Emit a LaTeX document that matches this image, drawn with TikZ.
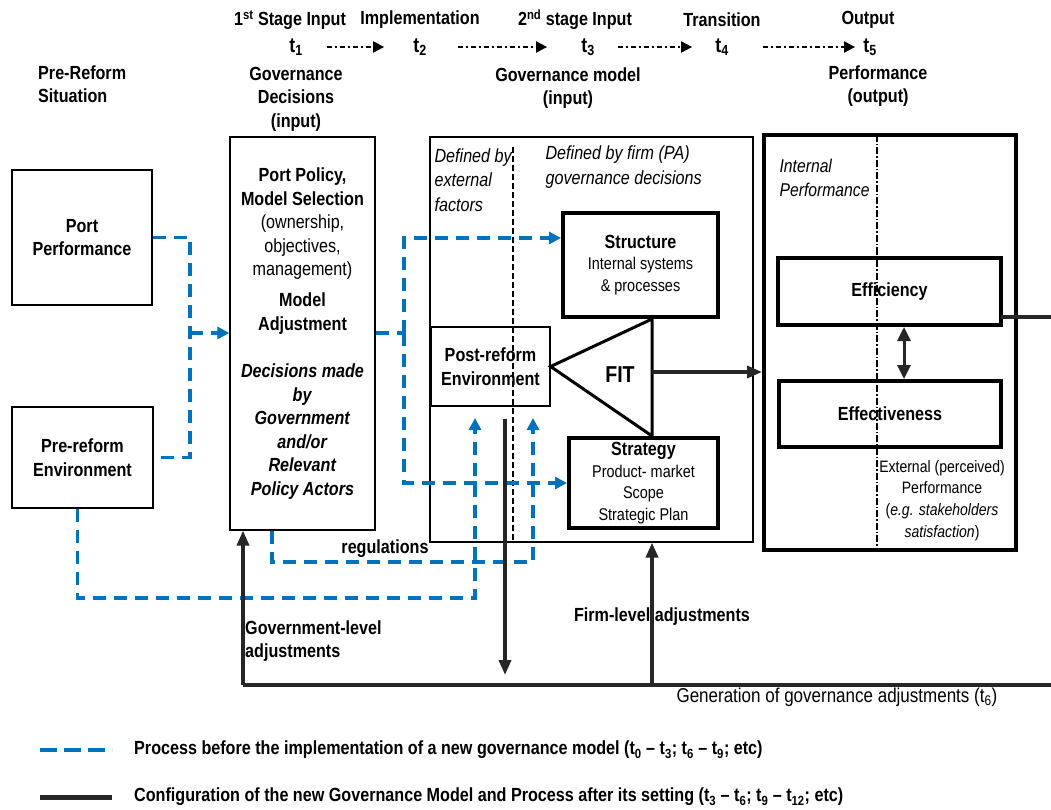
\documentclass[tikz,border=0pt]{standalone}
\usepackage{fontspec}
\setmainfont{Liberation Sans}[FakeStretch=0.85]
\usetikzlibrary{arrows.meta,calc}
\definecolor{flowblue}{RGB}{0,114,188}
\newcommand{\bigtxt}{\fontsize{19}{23.5}\selectfont}
\newcommand{\midtxt}{\fontsize{19}{24.5}\selectfont}
\newcommand{\smalltxt}{\fontsize{17}{21.5}\selectfont}

\begin{document}
\begin{tikzpicture}[x=1pt, y=-1pt,
    lbl/.style={font=\bigtxt\bfseries, align=center, inner sep=2pt},
    box/.style={draw, line width=1.2pt, inner sep=0pt, align=center, font=\bigtxt\bfseries},
    heavybox/.style={draw, line width=4pt, inner sep=0pt, align=center, font=\bigtxt\bfseries},
    flow/.style={draw=flowblue, line width=3.5pt, dash pattern=on 13pt off 8pt},
    flowtip/.style={-{Triangle[length=12pt,width=12pt]}},
    heavy/.style={draw=black!85, line width=3.5pt},
    heavytip/.style={-{Triangle[length=15pt,width=12pt]}},
    timeflow/.style={line width=2pt, dash pattern=on 5pt off 3pt on 2pt off 3pt,
        -{Triangle[length=11pt,width=11pt]}}]
    \useasboundingbox (0,0) rectangle (1051,810);

    % time line
    \node[lbl] (stage1) at (290,20) {1\textsuperscript{st} Stage Input};
    \node[lbl] (impl) at (420,20) {Implementation};
    \node[lbl] (stage2) at (575,20) {2\textsuperscript{nd} stage Input};
    \node[lbl] (trans) at (722,20) {Transition};
    \node[lbl] (outp) at (868,20) {Output};
    \node[lbl, font=\fontsize{21}{24}\selectfont\bfseries] (t1) at (296,47) {t\textsubscript{1}};
    \node[lbl, font=\fontsize{21}{24}\selectfont\bfseries] (t2) at (420,47) {t\textsubscript{2}};
    \node[lbl, font=\fontsize{21}{24}\selectfont\bfseries] (t3) at (588,47) {t\textsubscript{3}};
    \node[lbl, font=\fontsize{21}{24}\selectfont\bfseries] (t4) at (722,47) {t\textsubscript{4}};
    \node[lbl, font=\fontsize{21}{24}\selectfont\bfseries] (t5) at (870,47) {t\textsubscript{5}};
    \draw[timeflow, shorten <=22pt, shorten >=27pt] (t1) -- (t2);
    \draw[timeflow, shorten <=29pt, shorten >=32pt] (t2) -- (t3);
    \draw[timeflow, shorten <=21pt, shorten >=21pt] (t3) -- (t4);
    \draw[timeflow, shorten <=32pt, shorten >=6pt] (t4) -- (t5);

    % column heads
    \node[lbl, align=left, anchor=west] (prehead) at (36,84) {Pre-Reform\\Situation};
    \node[lbl] (govhead) at (296,99) {Governance\\Decisions\\(input)};
    \node[lbl] (modhead) at (568,88) {Governance model\\(input)};
    \node[lbl] (perfhead) at (878,86) {Performance\\(output)};

    % pre-reform situation
    \node[box, minimum width=140pt, minimum height=135pt] (portperf) at (82,237.5) {Port\\Performance};
    \node[box, minimum width=141pt, minimum height=101pt] (preenv) at (82.5,457.5) {Pre-reform\\Environment};

    % governance decisions
    \node[box, minimum width=145pt, minimum height=393pt] (govbox) at (302.5,333.5)
        {Port Policy,\\Model Selection\\{\mdseries (ownership,}\\{\mdseries objectives,}\\{\mdseries management)}\\[7.5pt]
         Model\\Adjustment\\[24pt]
         \textit{Decisions made}\\\textit{by}\\\textit{Government}\\\textit{and/or}\\\textit{Relevant}\\\textit{Policy Actors}};

    % governance model
    \node[box, minimum width=323pt, minimum height=405pt] (midbox) at (591.5,339.5) {};
    \draw[line width=1.2pt, dash pattern=on 6pt off 3pt] ($(midbox.north)+(-78.5,11)$) -- ($(midbox.south)+(-78.5,-2)$);
    \node[align=left, anchor=west, font=\midtxt\itshape] (extlbl) at (431,180) {Defined by\\external\\factors};
    \node[align=left, anchor=west, font=\midtxt\itshape] (firmlbl) at (542,167) {Defined by firm (PA)\\governance decisions};
    \node[heavybox, minimum width=155pt, minimum height=104pt, font=\smalltxt] (structure) at (640.5,265)
        {{\bigtxt\bfseries Structure}\\Internal systems\\\& processes};
    \node[heavybox, minimum width=149pt, minimum height=90pt, font=\smalltxt] (strategy) at (643.5,483)
        {{\bigtxt\bfseries Strategy}\\Product- market\\Scope\\Strategic Plan};
    \node[box, minimum width=119pt, minimum height=79pt] (postenv) at (490.5,366.5) {Post-reform\\Environment};
    \coordinate (fitx) at (652,372);
    \draw[line width=3pt, line join=miter] (postenv.east) -- (structure.south -| fitx) -- (strategy.north -| fitx) -- cycle;
    \node[font=\fontsize{23}{26}\selectfont\bfseries] (fitlbl) at (620,375) {FIT};

    % performance
    \node[heavybox, minimum width=252pt, minimum height=415pt] (outbox) at (890,342.5) {};
    \draw[line width=1.2pt, dash pattern=on 7pt off 2pt on 1.5pt off 2pt] ($(outbox.north)+(-13,2)$) -- ($(outbox.south)+(-13,-2)$);
    \node[align=left, anchor=west, font=\fontsize{18.5}{24}\selectfont\itshape] (intlbl) at (776,178) {Internal\\Performance};
    \node[heavybox, minimum width=223pt, minimum height=67pt] (efficiency) at (889.5,291.5) {Efficiency};
    \node[heavybox, minimum width=222pt, minimum height=66pt] (effective) at (890,414) {Effectiveness};
    \node[align=center, font=\fontsize{16.5}{21.7}\selectfont] (extlbl2) at (942,500.5)
        {External (perceived)\\Performance\\(\textit{e.g. stakeholders}\\\textit{satisfaction})};
    \draw[heavy, line width=3pt, {Triangle[length=14pt,width=13pt]}-{Triangle[length=14pt,width=13pt]}]
        ($(efficiency.south)+(14.5,0)$) -- ($(effective.north)+(14,0)$);
    \coordinate (effout) at (1051,317);
    \draw[heavy] ($(efficiency.east)+(-2,25.5)$) -- (effout);

    % process before implementation
    \coordinate (pjoin) at (190,333);
    \draw[flow] (portperf.east) -| (pjoin) |- (preenv.east);
    \draw[flow, flowtip] (pjoin) -- (govbox.west |- pjoin);
    \coordinate (gjoin) at (404,333);
    \coordinate (structin) at ($(structure.north west)!0.25!(structure.south west)$);
    \draw[flow] (govbox.east |- gjoin) -- (gjoin);
    \draw[flow, flowtip] (gjoin) |- (structin);
    \draw[flow, flowtip] (gjoin) |- (strategy.west);
    \coordinate (envin1) at (475,406);
    \coordinate (envin2) at (533,406);
    \coordinate (lowturn) at (475,598);
    \coordinate (regstart) at ($(govbox.south)+(-30.5,0)$);
    \coordinate (regturn) at (533,562);
    \draw[flow, flowtip, shorten >=12pt] ($(preenv.south)+(-5,0)$) |- (lowturn) -- (envin1);
    \draw[flow, flowtip, shorten >=12pt] (regstart) |- (regturn) -- (envin2);
    \node[lbl] (reglbl) at (385,549) {regulations};

    % configuration after setting
    \coordinate (govadj) at (243,685);
    \coordinate (firmadj) at (652,685);
    \coordinate (adjend) at (1051,685);
    \coordinate (envdown) at (505,675);
    \draw[heavy] (govadj) -- (adjend);
    \draw[heavy, heavytip] (govadj) -- (govbox.south -| govadj);
    \draw[heavy, heavytip] (firmadj) -- (midbox.south -| firmadj);
    \draw[heavy, heavytip, shorten <=12pt] (postenv.south -| envdown) -- (envdown);
    \draw[heavy, heavytip] (fitx) -- (outbox.west |- fitx);
    \node[lbl, align=left, anchor=west] (govadjlbl) at (243,641) {Government-level\\adjustments};
    \node[lbl] (firmadjlbl) at (662,617) {Firm-level adjustments};
    \node[anchor=west, font=\fontsize{20}{22}\selectfont] (genlbl) at (673,697) {Generation of governance adjustments (t\textsubscript{6})};

    % legend
    \coordinate (leg1a) at (40,750);
    \coordinate (leg1b) at (112,750);
    \coordinate (leg2a) at (40,797);
    \coordinate (leg2b) at (112,797);
    \draw[flow, dash pattern=on 17pt off 7pt] (leg1a) -- (leg1b);
    \draw[heavy, line width=5pt] (leg2a) -- (leg2b);
    \node[lbl, anchor=west, font=\fontsize{19}{22}\selectfont\bfseries] (leg1) at (132,750)
        {Process before the implementation of a new governance model (t\textsubscript{0} – t\textsubscript{3}; t\textsubscript{6} – t\textsubscript{9}; etc)};
    \node[lbl, anchor=west, font=\fontsize{19}{22}\selectfont\bfseries] (leg2) at (132,797)
        {Configuration of the new Governance Model and Process after its setting (t\textsubscript{3} – t\textsubscript{6}; t\textsubscript{9} – t\textsubscript{12}; etc)};
\end{tikzpicture}
\end{document}
